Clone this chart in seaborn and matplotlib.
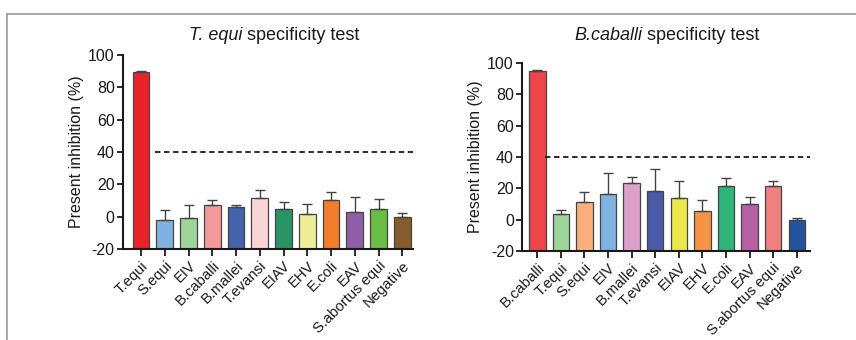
import numpy as np
import pandas as pd
import seaborn as sns
import matplotlib.pyplot as plt
from matplotlib.lines import Line2D

# left panel: T. equi
te_labels = ["T.equi", "S.equi", "EIV", "B.caballi", "B.mallei", "T.evansi",
             "EIAV", "EHV", "E.coli", "EAV", "S.abortus equi", "Negative"]
te_mean = [89.7, -2.0, -1.0, 7.0, 6.2, 11.5, 4.7, 1.6, 10.3, 3.1, 4.7, -0.4]
te_err = [0.5, 6.0, 8.0, 3.0, 1.2, 4.8, 4.3, 6.4, 4.7, 9.3, 6.3, 2.4]
te_colors = ["#e8232a", "#7fb2e0", "#9dd49a", "#f4999a", "#4563ab", "#f9d4d6",
             "#2a9466", "#eeee99", "#f27d2c", "#8e5ea8", "#6abd45", "#845c2e"]

# right panel: B. caballi
bc_labels = ["B.caballi", "T.equi", "S.equi", "EIV", "B.mallei", "T.evansi",
             "EIAV", "EHV", "E.coli", "EAV", "S.abortus equi", "Negative"]
bc_mean = [95.0, 3.8, 11.3, 16.6, 23.6, 18.1, 14.0, 5.3, 21.3, 10.2, 21.3, -0.4]
bc_err = [0.4, 2.6, 6.4, 13.2, 3.8, 14.2, 10.5, 7.0, 5.3, 4.1, 3.4, 1.7]
bc_colors = ["#ee4548", "#9dd49a", "#f9b07e", "#7fb2e0", "#dca1ca", "#4a5aa8",
             "#eae84a", "#f59448", "#2db57a", "#b760a6", "#f07f80", "#2453a0"]

cutoff = 40
baseline = -20

sns.set_theme(style="ticks")
plt.rcParams["font.family"] = ["Liberation Sans", "DejaVu Sans"]
plt.rcParams["axes.unicode_minus"] = False
ink = "#1a1a1a"
plt.rcParams["text.color"] = ink
plt.rcParams["axes.labelcolor"] = ink
plt.rcParams["xtick.color"] = ink
plt.rcParams["ytick.color"] = ink

fig = plt.figure(figsize=(8.56, 3.4), dpi=100)
renderer = fig.canvas.get_renderer()

# gray frame around the panels
fig.add_artist(Line2D([7/856, 1], [1 - 14/340, 1 - 14/340], color="#9a9a9a", lw=1.2))
fig.add_artist(Line2D([7/856, 7/856], [0, 1 - 14/340], color="#9a9a9a", lw=1.2))


def two_part_title(x_px, italic_part, plain_part, size=13):
    # italic species name followed by plain text, centred on x_px
    y = 1 - 40 / 340
    t1 = fig.text(0, y, italic_part, fontsize=size, style="italic", va="baseline")
    t2 = fig.text(0, y, plain_part, fontsize=size, va="baseline")
    w1 = t1.get_window_extent(renderer).width
    w2 = t2.get_window_extent(renderer).width
    x0 = x_px - (w1 + w2) / 2
    t1.set_x(x0 / 856)
    t2.set_x((x0 + w1) / 856)


panels = [
    (te_labels, te_mean, te_err, te_colors, [0.1437, 0.268, 0.339, 0.570],
     (-0.76, 11.46), 0.6, ("T. equi", " specificity test"), 274),
    (bc_labels, bc_mean, bc_err, bc_colors, [0.610, 0.262, 0.336, 0.553],
     (-0.64, 11.55), 0.34, ("B.caballi", " specificity test"), 667),
]

for labels, mean, err, colors, rect, xlim, dash_start, title, title_x in panels:
    ax = fig.add_axes(rect)
    df = pd.DataFrame({"sample": labels, "value": mean})
    sns.barplot(data=df, x="sample", y="value", hue="sample", palette=colors,
                order=labels, hue_order=labels, legend=False, width=0.7,
                saturation=1, edgecolor="#444444", linewidth=0.9,
                errorbar=None, ax=ax)
    # bars rise from the bottom of the axis, as in the original
    for bar, m in zip(ax.patches, mean):
        bar.set_y(baseline)
        bar.set_height(m - baseline)
    pos = np.arange(len(labels))
    ax.errorbar(pos, mean, yerr=[np.zeros(len(err)), err], fmt="none",
                ecolor="#444444", elinewidth=1.0, capsize=3.5, capthick=1.0)
    ax.plot([dash_start, xlim[1]], [cutoff, cutoff], ls=(0, (3, 2)),
            color=ink, lw=1.3)
    ax.set_xlim(*xlim)
    ax.set_ylim(baseline, 100)
    ax.set_yticks(range(-20, 101, 20))
    ax.set_xticks(pos)
    ax.set_xticklabels(labels, rotation=45, ha="right", rotation_mode="anchor",
                       fontsize=10.6)
    ax.tick_params(axis="y", labelsize=11.5, length=4, width=1.3, pad=2)
    ax.tick_params(axis="x", length=5, width=1.3, pad=2)
    ax.set_xlabel("")
    ax.set_ylabel("Present inhibition (%)", fontsize=11.5, labelpad=3)
    two_part_title(title_x, *title)
    sns.despine(ax=ax)
    for s in ["left", "bottom"]:
        ax.spines[s].set_linewidth(1.5)
        ax.spines[s].set_color(ink)

fig.savefig("out.png", dpi=100)
